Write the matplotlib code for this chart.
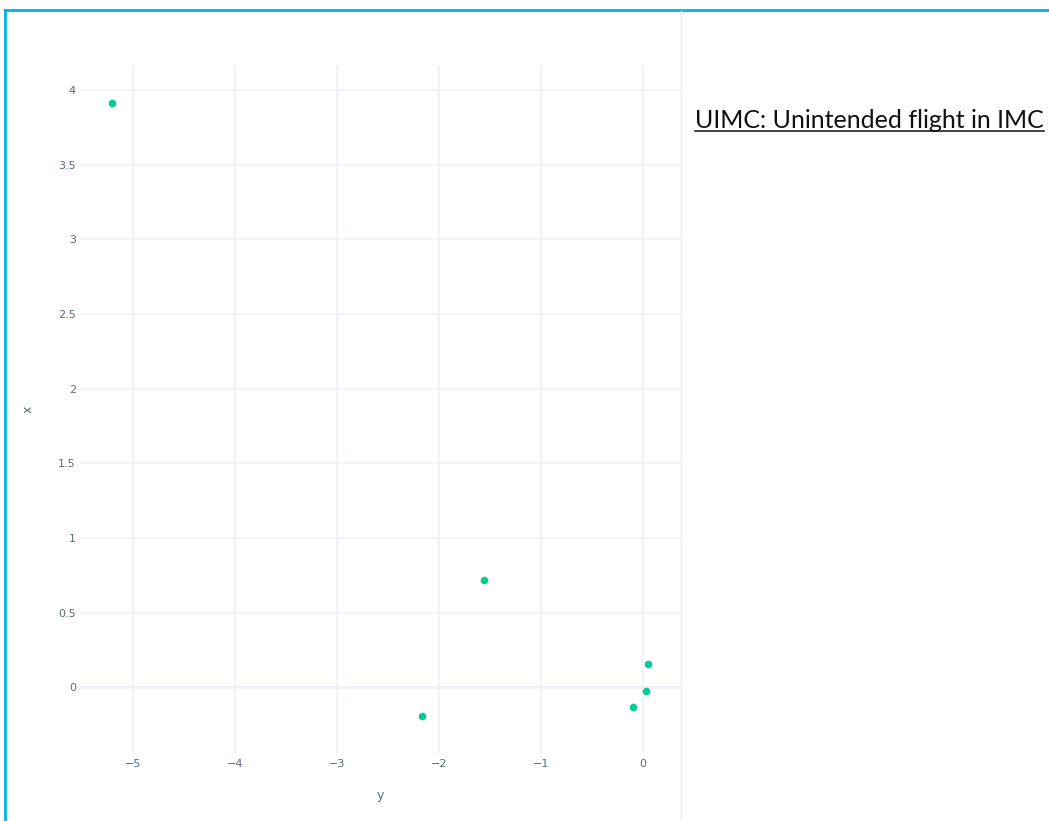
import matplotlib
matplotlib.use("Agg")
import matplotlib.pyplot as plt
from matplotlib.lines import Line2D

# data
y_vals = [-5.207, -1.561, -2.171, 0.049, 0.023, -0.105]
x_vals = [3.911, 0.716, -0.191, 0.154, -0.024, -0.129]
xticks = [-5, -4, -3, -2, -1, 0]
yticks = [0, 0.5, 1, 1.5, 2, 2.5, 3, 3.5, 4]
note = "UIMC: Unintended flight in IMC"

W, H = 1049, 821
fig = plt.figure(figsize=(W / 100, H / 100), dpi=100)
fig.patch.set_facecolor("white")

ax = fig.add_axes([80 / W, (H - 753) / H, (681 - 80) / W, (753 - 65) / H])
ax.scatter(y_vals, x_vals, s=30, color="#00cc96", zorder=3, linewidths=0)
ax.set_xlim(-5.52, 0.37)
ax.set_ylim(-0.44, 4.168)
ax.set_xticks(xticks)
ax.set_yticks(yticks)
ax.set_xticklabels(["\u22125", "\u22124", "\u22123", "\u22122", "\u22121", "0"])
ax.set_yticklabels(["0", "0.5", "1", "1.5", "2", "2.5", "3", "3.5", "4"])
ax.grid(True, color="#eef1f7", linewidth=1.2)
ax.axhline(0, color="#eef1f7", linewidth=2, zorder=1)
ax.set_axisbelow(True)
for s in ax.spines.values():
    s.set_visible(False)
ax.tick_params(length=0, labelsize=8, labelcolor="#5a6780")
ax.tick_params(axis="x", pad=4)
ax.tick_params(axis="y", pad=3)
ax.set_xlabel("y", fontsize=9, color="#5a6780")
ax.set_ylabel("x", fontsize=9, color="#5a6780", rotation=90)
ax.xaxis.set_label_coords((380 - 80) / 601, (753 - 789) / 688)
ax.yaxis.set_label_coords((35 - 80) / 601, 0.5 + (409 - 409) / 688)

# screenshot frame
fig.add_artist(Line2D([5 / W, 5 / W], [0, (H - 10) / H], color="#00b0f0", lw=2))
fig.add_artist(Line2D([5 / W, 1], [(H - 10) / H, (H - 10) / H], color="#00b0f0", lw=2))
fig.add_artist(Line2D([681 / W, 681 / W], [0, (H - 11) / H], color="#eeeeee", lw=1))

t = fig.text(695 / W, (H - 128) / H, note, fontsize=18, family="Lato",
             color="#111111", ha="left", va="baseline")
fig.canvas.draw()
bb = t.get_window_extent()
uy = (H - 131) / H
fig.add_artist(Line2D([bb.x0 / W, bb.x1 / W], [uy, uy], color="#111111", lw=1.1))

fig.savefig("out.png", dpi=100)
